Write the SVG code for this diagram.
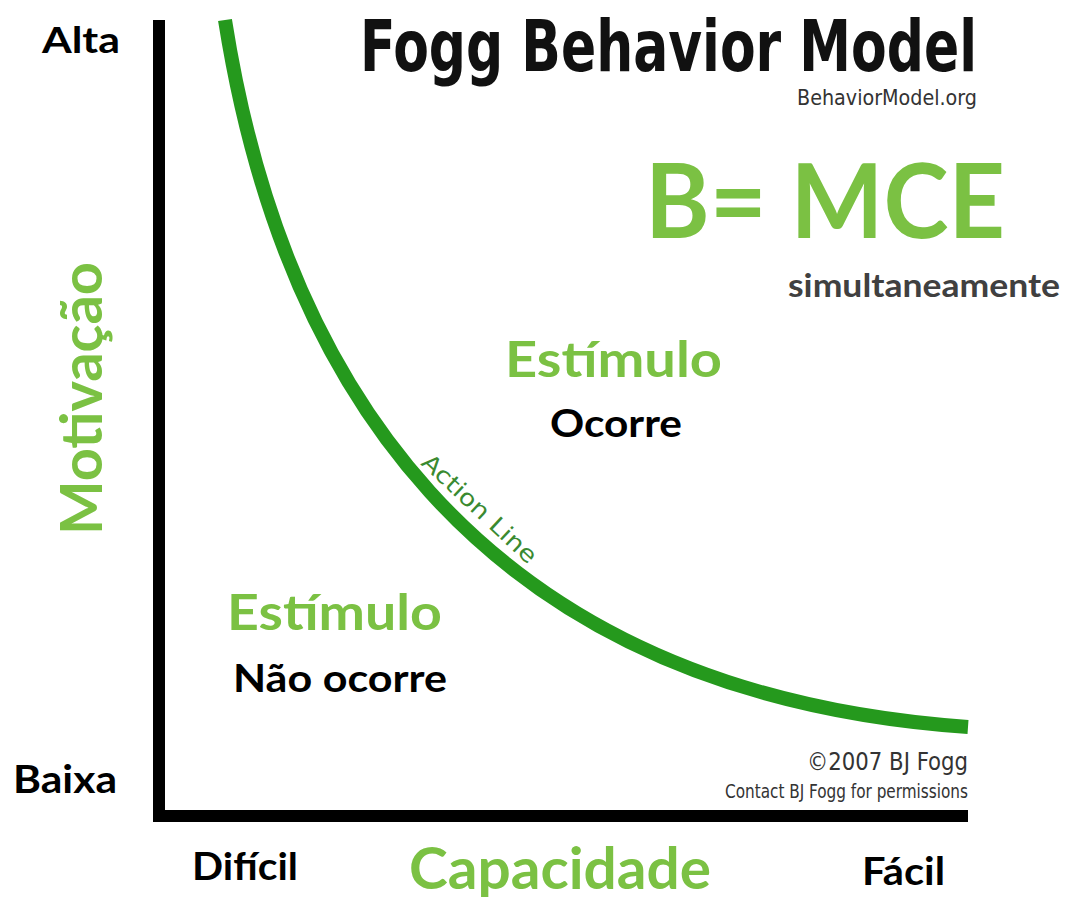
<svg xmlns="http://www.w3.org/2000/svg" width="1065" height="897" viewBox="0 0 1065 897">
<style>
.lb{font-family:Lato,"Open Sans","Liberation Sans",sans-serif;font-weight:bold;}
.green{fill:#7bc143;}
.black{fill:#000;}
.cond{font-family:"DejaVu Sans Condensed","DejaVu Sans","Liberation Sans",sans-serif;}
.axis{fill:none;stroke:#000;stroke-width:12;stroke-linejoin:miter;stroke-linecap:butt;}
.action{fill:none;stroke:#25991d;stroke-width:14;stroke-linecap:butt;}
</style>
<rect width="1065" height="897" fill="#fff"/>
<g id="connectors">
<path id="axes" class="axis" d="M159,20 V816 H968"/>
<path id="action-line" class="action" d="M225,20 C280,370 468,692 968,727"/>
</g>
<g id="title">
<text class="cond" x="360" y="71" font-size="72" font-weight="bold" fill="#111" textLength="617" lengthAdjust="spacingAndGlyphs">Fogg Behavior Model</text>
<text class="cond" x="797" y="105" font-size="22" fill="#333" textLength="180" lengthAdjust="spacingAndGlyphs">BehaviorModel.org</text>
</g>
<g id="formula">
<text class="lb green" x="645" y="238" font-size="104" textLength="360" lengthAdjust="spacingAndGlyphs">B= MCE</text>
<text class="lb" x="788" y="297" font-size="33" fill="#404040" textLength="272" lengthAdjust="spacingAndGlyphs">simultaneamente</text>
</g>
<g id="region-above">
<text class="lb green" x="505" y="377" font-size="50" textLength="217" lengthAdjust="spacingAndGlyphs">Estímulo</text>
<text class="lb black" x="550" y="437" font-size="38" textLength="132" lengthAdjust="spacingAndGlyphs">Ocorre</text>
</g>
<g id="region-below">
<text class="lb green" x="227" y="630" font-size="49" textLength="215" lengthAdjust="spacingAndGlyphs">Estímulo</text>
<text class="lb black" x="233" y="692" font-size="38" textLength="214" lengthAdjust="spacingAndGlyphs">Não ocorre</text>
</g>
<g id="action-label">
<text class="cond" transform="translate(420,464) rotate(43)" font-size="23" fill="#3a8a30" textLength="148" lengthAdjust="spacingAndGlyphs">Action Line</text>
</g>
<g id="y-axis-labels">
<text class="lb black" x="42" y="53" font-size="36" textLength="78" lengthAdjust="spacingAndGlyphs">Alta</text>
<text class="lb black" x="13" y="793" font-size="39" textLength="104" lengthAdjust="spacingAndGlyphs">Baixa</text>
<text class="lb green" transform="translate(102,535) rotate(-90)" font-size="58" textLength="273" lengthAdjust="spacingAndGlyphs">Motivação</text>
</g>
<g id="x-axis-labels">
<text class="lb black" x="192" y="880" font-size="38" textLength="106" lengthAdjust="spacingAndGlyphs">Difícil</text>
<text class="lb green" x="409" y="889" font-size="58" textLength="302" lengthAdjust="spacingAndGlyphs">Capacidade</text>
<text class="lb black" x="862" y="885" font-size="39" textLength="83" lengthAdjust="spacingAndGlyphs">Fácil</text>
</g>
<g id="copyright">
<text class="cond" x="807" y="770" font-size="25" fill="#333" textLength="161" lengthAdjust="spacingAndGlyphs">©2007 BJ Fogg</text>
<text class="cond" x="725" y="798" font-size="19" fill="#333" textLength="243" lengthAdjust="spacingAndGlyphs">Contact BJ Fogg for permissions</text>
</g>
</svg>
